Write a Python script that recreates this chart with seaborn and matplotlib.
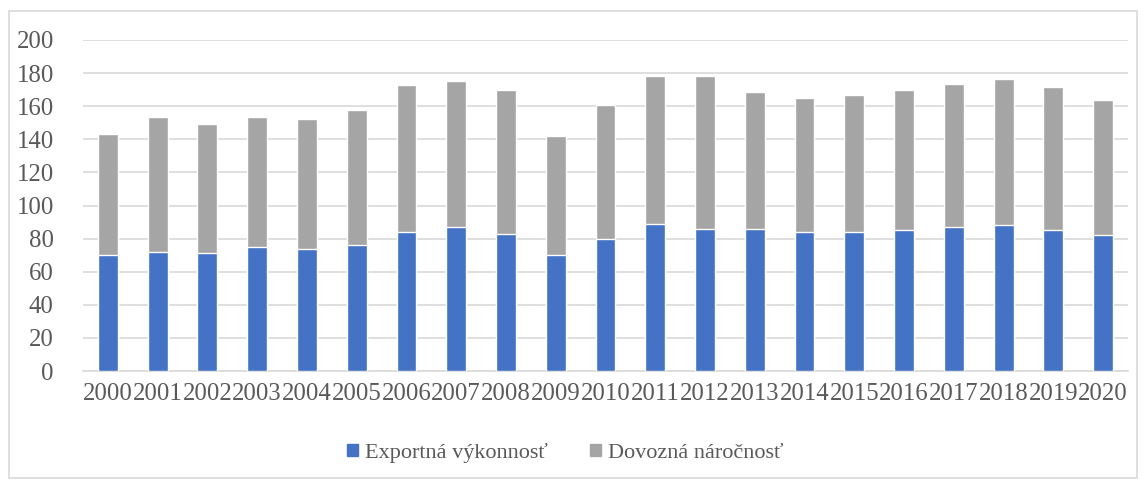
import numpy as np
import pandas as pd
import matplotlib
matplotlib.use("Agg")
import matplotlib.pyplot as plt
import seaborn as sns
from matplotlib.patches import Rectangle, Patch

years = [str(y) for y in range(2000, 2021)]
exportna = [70, 72, 71, 75, 74, 76, 84, 87, 83, 70, 80, 89, 86, 86, 84, 84, 85, 87, 88, 85, 82]
dovozna = [73.5, 81.5, 78.5, 78.5, 78, 81.5, 89, 88, 86.5, 72, 81, 89.5, 92, 82.5, 81, 83, 84.5, 86.5, 88.5, 86.8, 81.5]

df = pd.DataFrame({"Rok": years, "Exportná výkonnosť": exportna, "Dovozná náročnosť": dovozna})
df["Spolu"] = df["Exportná výkonnosť"] + df["Dovozná náročnosť"]

sns.set_style("white")
plt.rcParams["font.family"] = ["Liberation Serif", "DejaVu Serif"]
txt = "#595959"
blue = "#4472C4"
gray = "#A5A5A5"

fig = plt.figure(figsize=(11.46, 4.8), dpi=100)
ax = fig.add_axes([83/1146, 1-371/480, (1128-83)/1146, (371-40)/480])

# stacked: total in gray, export on top of it in blue
sns.barplot(data=df, x="Rok", y="Spolu", color=gray, width=0.4, ax=ax, saturation=1, zorder=3)
sns.barplot(data=df, x="Rok", y="Exportná výkonnosť", color=blue, width=0.4, ax=ax, saturation=1, zorder=3)

ax.set_ylim(0, 200)
ax.set_xlim(-0.5, 20.5)
ax.set_yticks(np.arange(0, 201, 20))
ax.grid(axis="y", color="#D9D9D9", linewidth=1.2, zorder=0)
ax.set_axisbelow(True)
for s in ["top", "right", "left"]:
    ax.spines[s].set_visible(False)
ax.spines["bottom"].set_color("#D9D9D9")
ax.spines["bottom"].set_linewidth(1.2)
ax.set_xlabel("")
ax.set_ylabel("")
ax.tick_params(axis="both", length=0, labelsize=17.8, colors=txt)
ax.tick_params(axis="y", pad=21)
ax.tick_params(axis="x", pad=9)

handles = [Patch(color=blue, label="Exportná výkonnosť"),
           Patch(color=gray, label="Dovozná náročnosť")]
fig.legend(handles=handles, loc="center", bbox_to_anchor=(565/1146, 1-453/480),
           ncol=2, frameon=False, fontsize=16, labelcolor=txt,
           handlelength=0.5, handleheight=0.5, handletextpad=0.3, columnspacing=1.9)

fig.patches.append(Rectangle((9/1146, 2/480), (1137-9)/1146, (469-2)/480,
                             transform=fig.transFigure, fill=False,
                             edgecolor="#D9D9D9", linewidth=1.2))

fig.savefig("out.png", dpi=100)
